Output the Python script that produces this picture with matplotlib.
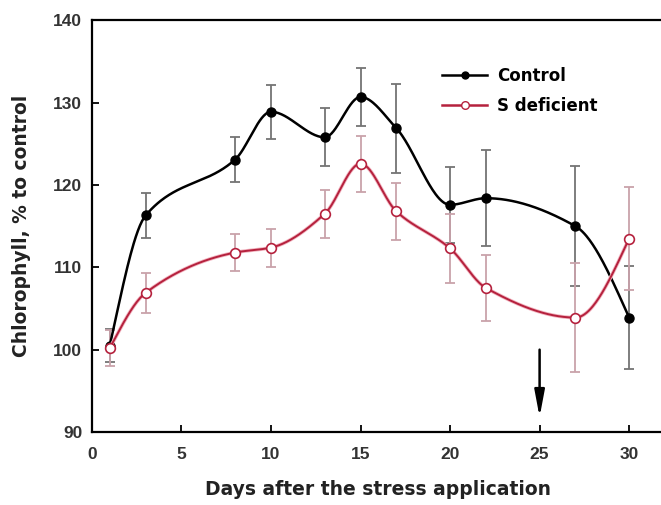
import numpy as np
import matplotlib
matplotlib.use("Agg")
import matplotlib.pyplot as plt

plt.rcParams['font.family'] = ['Liberation Sans', 'DejaVu Sans']
plt.rcParams['font.weight'] = 'bold'

# days of measurement
days = [1, 3, 8, 10, 13, 15, 17, 20, 22, 27, 30]

# control plants
ctrl_mean = [100.5, 116.3, 123.1, 128.9, 125.8, 130.7, 126.9, 117.6, 118.4, 115.0, 103.9]
ctrl_err = [2.0, 2.7, 2.7, 3.3, 3.5, 3.5, 5.4, 4.6, 5.8, 7.3, 6.3]

# sulphur deficient plants
sdef_mean = [100.2, 106.9, 111.8, 112.4, 116.5, 122.6, 116.8, 112.3, 107.5, 103.9, 113.5]
sdef_err = [2.2, 2.4, 2.2, 2.3, 2.9, 3.4, 3.5, 4.2, 4.0, 6.6, 6.3]

# day the stress was applied, arrow drawn from 100 down to near the axis
arrow_day = 25
arrow_from = 100
arrow_to = 91.8


#monotone cubic (pchip) through the points, numpy only
def smooth(x, y, n=500):
    x = np.asarray(x, float)
    y = np.asarray(y, float)
    h = np.diff(x)
    d = np.diff(y) / h
    k = len(x)
    m = np.zeros(k)
    for i in range(1, k - 1):
        if d[i - 1] * d[i] > 0:
            w1 = 2 * h[i] + h[i - 1]
            w2 = h[i] + 2 * h[i - 1]
            m[i] = (w1 + w2) / (w1 / d[i - 1] + w2 / d[i])
    #end slopes
    m[0] = ((2 * h[0] + h[1]) * d[0] - h[0] * d[1]) / (h[0] + h[1])
    if np.sign(m[0]) != np.sign(d[0]):
        m[0] = 0
    m[-1] = ((2 * h[-1] + h[-2]) * d[-1] - h[-1] * d[-2]) / (h[-1] + h[-2])
    if np.sign(m[-1]) != np.sign(d[-1]):
        m[-1] = 0
    xs = np.linspace(x[0], x[-1], n)
    idx = np.clip(np.searchsorted(x, xs) - 1, 0, k - 2)
    t = (xs - x[idx]) / h[idx]
    h00 = 2 * t**3 - 3 * t**2 + 1
    h10 = t**3 - 2 * t**2 + t
    h01 = -2 * t**3 + 3 * t**2
    h11 = t**3 - t**2
    ys = h00 * y[idx] + h10 * h[idx] * m[idx] + h01 * y[idx + 1] + h11 * h[idx] * m[idx + 1]
    return xs, ys


red = '#b5213d'
lab_font = dict(family='DejaVu Sans', fontweight='bold', fontsize=13.5, color='#222222')

fig = plt.figure(figsize=(6.61, 5.05), dpi=100)
ax = fig.add_axes([0.139, 0.1446, 0.867, 0.815])

#error bars first
ax.errorbar(days, ctrl_mean, yerr=ctrl_err, fmt='none', ecolor='#747474',
            elinewidth=1.3, capsize=3.6, capthick=1.3, zorder=2)
ax.errorbar(days, sdef_mean, yerr=sdef_err, fmt='none', ecolor='#c9a2aa',
            elinewidth=1.3, capsize=3.6, capthick=1.3, zorder=2)

xs, ys = smooth(days, ctrl_mean)
ax.plot(xs, ys, color='black', lw=1.8, zorder=3)
ax.plot(days, ctrl_mean, 'o', color='black', ms=6.5, zorder=4)

xs, ys = smooth(days, sdef_mean)
ax.plot(xs, ys, color='#f2b4c0', lw=2.6, zorder=5)
ax.plot(xs, ys, color=red, lw=1.4, zorder=5)
ax.plot(days, sdef_mean, 'o', mfc='white', mec=red, mew=1.2, ms=7, zorder=6)

#legend handles only
ax.plot([], [], '-o', color='black', lw=1.8, ms=5, label='Control')
ax.plot([], [], '-o', color=red, mfc='white', mec=red, lw=1.8, ms=5.5,
        label='S deficient')

#arrow showing when stress was applied
ax.annotate('', xy=(arrow_day, arrow_to), xytext=(arrow_day, arrow_from),
            arrowprops=dict(arrowstyle='-|>,head_length=1.6,head_width=0.3',
                            color='black', lw=1.8, shrinkA=0, shrinkB=0))

ax.set_xlim(0, 32)
ax.set_ylim(90, 140)
ax.set_xticks([0, 5, 10, 15, 20, 25, 30])
ax.set_yticks([90, 100, 110, 120, 130, 140])
ax.tick_params(direction='in', length=5, width=1.3, labelsize=12.5,
               labelcolor='#333333')
ax.tick_params(axis='x', pad=10.5)
ax.tick_params(axis='y', pad=7)
for s in ['left', 'bottom', 'top']:
    ax.spines[s].set_linewidth(1.6)
ax.spines['right'].set_visible(False)

ax.set_xlabel('Days after the stress application', labelpad=13, **lab_font)
ax.set_ylabel('Chlorophyll, % to control', labelpad=16, **lab_font)

ax.legend(loc='upper left', bbox_to_anchor=(0.611, 0.887), frameon=False,
          prop=dict(family='DejaVu Sans', weight='bold', size=12),
          handlelength=2.7, handletextpad=0.6,
          labelspacing=0.7, borderpad=0, borderaxespad=0)

fig.savefig('out.png', dpi=100)
